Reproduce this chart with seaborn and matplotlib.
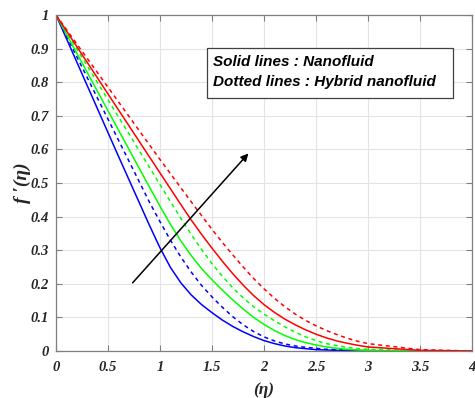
import matplotlib
matplotlib.use("Agg")
import matplotlib.pyplot as plt
from matplotlib.patches import Rectangle
import seaborn as sns
import pandas as pd

eta = [0.0, 0.1, 0.2, 0.3, 0.4, 0.5, 0.6, 0.7, 0.8, 0.9, 1.0, 1.1, 1.2, 1.3, 1.4, 1.5,
       1.6, 1.7, 1.8, 1.9, 2.0, 2.1, 2.2, 2.3, 2.4, 2.5, 2.6, 2.7, 2.8, 2.9, 3.0, 3.5, 4.0]
blue_solid = [1.000, 0.930, 0.860, 0.790, 0.720, 0.650, 0.580, 0.511, 0.442, 0.373, 0.307,
              0.249, 0.203, 0.167, 0.138, 0.114, 0.092, 0.073, 0.057, 0.043, 0.031, 0.022,
              0.015, 0.010, 0.007, 0.004, 0.003, 0.002, 0.001, 0.001, 0.0, 0.0, 0.0]
blue_dotted = [1.000, 0.938, 0.876, 0.814, 0.752, 0.690, 0.628, 0.566, 0.504, 0.442, 0.385,
               0.330, 0.280, 0.235, 0.195, 0.161, 0.130, 0.102, 0.078, 0.058, 0.042, 0.030,
               0.021, 0.015, 0.011, 0.008, 0.005, 0.004, 0.003, 0.002, 0.001, 0.0, 0.0]
green_solid = [1.000, 0.943, 0.886, 0.829, 0.772, 0.715, 0.658, 0.601, 0.544, 0.487, 0.431,
               0.377, 0.328, 0.284, 0.245, 0.212, 0.181, 0.152, 0.125, 0.100, 0.079, 0.061,
               0.046, 0.034, 0.025, 0.018, 0.012, 0.008, 0.005, 0.003, 0.002, 0.0, 0.0]
green_dotted = [1.000, 0.950, 0.899, 0.849, 0.798, 0.748, 0.697, 0.647, 0.596, 0.546, 0.495,
                0.445, 0.395, 0.347, 0.302, 0.260, 0.222, 0.188, 0.158, 0.132, 0.110, 0.090,
                0.072, 0.056, 0.042, 0.031, 0.022, 0.016, 0.011, 0.007, 0.005, 0.001, 0.0]
red_solid = [1.000, 0.953, 0.906, 0.859, 0.812, 0.765, 0.718, 0.671, 0.624, 0.577, 0.530,
             0.483, 0.436, 0.390, 0.347, 0.306, 0.267, 0.230, 0.196, 0.165, 0.138, 0.115,
             0.095, 0.078, 0.063, 0.050, 0.039, 0.030, 0.023, 0.017, 0.012, 0.002, 0.0]
red_dotted = [1.000, 0.957, 0.914, 0.871, 0.828, 0.785, 0.742, 0.699, 0.656, 0.613, 0.570,
              0.528, 0.486, 0.444, 0.403, 0.362, 0.323, 0.286, 0.250, 0.216, 0.185, 0.157,
              0.132, 0.110, 0.091, 0.075, 0.061, 0.049, 0.038, 0.029, 0.022, 0.004, 0.0]

xticks = [0, 0.5, 1, 1.5, 2, 2.5, 3, 3.5, 4]
xticklabels = ["0", "0.5", "1", "1.5", "2", "2.5", "3", "3.5", "4"]
yticks = [0, 0.1, 0.2, 0.3, 0.4, 0.5, 0.6, 0.7, 0.8, 0.9, 1.0]
yticklabels = ["0", "0.1", "0.2", "0.3", "0.4", "0.5", "0.6", "0.7", "0.8", "0.9", "1"]
legend_lines = ["Solid lines : Nanofluid", "Dotted lines : Hybrid nanofluid"]

dash = (0, (2.6, 2.4))
series = [
    (blue_solid, "#0000ff", "-"),
    (blue_dotted, "#0000ff", dash),
    (green_solid, "#00ff00", "-"),
    (green_dotted, "#00ff00", dash),
    (red_solid, "#ff0000", "-"),
    (red_dotted, "#ff0000", dash),
]

sns.set_style("white")
fig = plt.figure(figsize=(4.75, 3.98), dpi=100)
ax = fig.add_axes([56 / 475, 47 / 398, 416 / 475, 336 / 398])

for vals, col, ls in series:
    df = pd.DataFrame({"eta": eta, "f": vals})
    sns.lineplot(data=df, x="eta", y="f", ax=ax, color=col, linewidth=1.1,
                 linestyle=ls, sort=False)

ax.set_xlim(0, 4)
ax.set_ylim(0, 1)
ax.set_xticks(xticks)
ax.set_yticks(yticks)
tick_font = dict(family="Liberation Serif", weight="bold", style="italic", size=10.5)
ax.set_xticklabels(xticklabels, fontdict=tick_font, color="#262626")
ax.set_yticklabels(yticklabels, fontdict=tick_font, color="#262626")
ax.grid(True, color="#e3e3e3", linewidth=0.8)
ax.set_axisbelow(True)
for s in ax.spines.values():
    s.set_visible(True)
    s.set_color("#7f7f7f")
    s.set_linewidth(0.9)
ax.tick_params(direction="in", length=4, color="#7f7f7f", top=True, right=True,
               bottom=True, left=True, pad=5)
ax.tick_params(axis="x", pad=7)

ax.set_xlabel("(η)", fontdict=dict(family="Liberation Serif", weight="bold",
                                    style="italic", size=12.5),
              labelpad=6, color="#262626")
ax.set_ylabel("f ′(η)", fontdict=dict(family="Liberation Serif", weight="bold",
                                       style="italic", size=14),
              labelpad=0, color="#262626")

ax.annotate("", xy=(1.85, 0.588), xytext=(0.737, 0.203),
            arrowprops=dict(arrowstyle="-|>", color="black", lw=1.1,
                            mutation_scale=11, shrinkA=0, shrinkB=0))

ax.add_patch(Rectangle((0.363, 0.754), 0.591, 0.148, transform=ax.transAxes,
                       facecolor="white", edgecolor="#404040", linewidth=0.9,
                       zorder=5))
for i, txt in enumerate(legend_lines):
    ax.text(0.377, 0.860 - i * 0.060, txt, transform=ax.transAxes,
            ha="left", va="center", family="Liberation Sans", weight="bold",
            style="italic", size=11, color="black", zorder=6)

fig.savefig("out.png", dpi=100)
